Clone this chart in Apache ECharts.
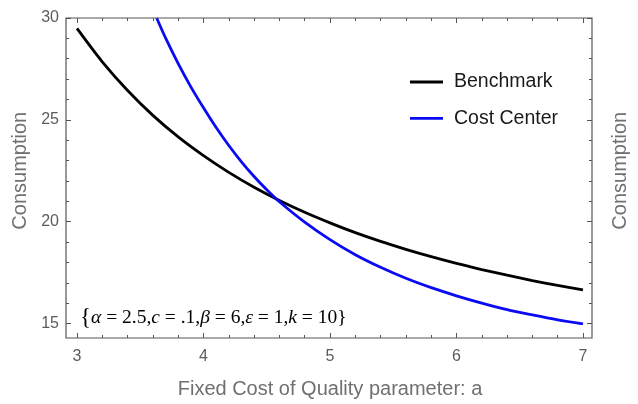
<!DOCTYPE html>
<html>
<head>
<meta charset="utf-8">
<script src="https://cdn.jsdelivr.net/npm/echarts@6/dist/echarts.min.js"></script>
<style>
html,body{margin:0;padding:0;background:#fff;}
#chart{width:638px;height:404px;}
</style>
</head>
<body>
<div id="chart"></div>
<script>
// ---- data ----
const xBenchmark = [3.0, 3.2, 3.4, 3.6, 3.8, 4.0, 4.2, 4.4, 4.6, 4.8, 5.0, 5.2, 5.4, 5.6, 5.8, 6.0, 6.2, 6.4, 6.6, 6.8, 7.0];
const yBenchmark = [29.49, 27.85, 26.44, 25.22, 24.16, 23.24, 22.42, 21.69, 21.04, 20.46, 19.94, 19.46, 19.03, 18.64, 18.28, 17.95, 17.65, 17.37, 17.11, 16.87, 16.65];

const xCostCenter = [3.63, 3.7, 3.8, 3.9, 4.0, 4.1, 4.2, 4.3, 4.4, 4.5, 4.6, 4.8, 5.0, 5.2, 5.4, 5.6, 5.8, 6.0, 6.2, 6.4, 6.6, 6.8, 7.0];
const yCostCenter = [30.0, 29.02, 27.76, 26.62, 25.59, 24.62, 23.74, 22.94, 22.22, 21.57, 20.98, 19.98, 19.12, 18.38, 17.76, 17.22, 16.76, 16.36, 16.00, 15.68, 15.42, 15.18, 14.98];

const seriesNames = ['Benchmark', 'Cost Center'];
const xTickRange = [3, 7];
const yTickRange = [15, 30];
const xAxisTitle = 'Fixed Cost of Quality parameter: a';
const yAxisTitle = 'Consumption';

const pairs = (xs, ys) => xs.map((x, i) => [x, ys[i]]);

const chart = echarts.init(document.getElementById('chart'), null, {renderer: 'canvas'});

const tickColor = '#555';
const labelColor = '#5c5c5c';
const nameColor = '#707070';
const sans = '"Liberation Sans", Arial, sans-serif';

function xAx(pos, offset, showLabel) {
  return {
    type: 'value', position: pos, offset: offset,
    min: xTickRange[0], max: xTickRange[1], interval: 1,
    axisLine: {show: false},
    axisTick: {show: true, inside: true, length: 5, lineStyle: {color: tickColor, width: 1}},
    minorTick: {show: true, splitNumber: 5, length: 3, lineStyle: {color: tickColor, width: 1}},
    splitLine: {show: false},
    axisLabel: {show: showLabel, margin: 11, color: labelColor, fontSize: 16, fontFamily: sans},
    name: showLabel ? xAxisTitle : '',
    nameLocation: 'middle', nameGap: 41,
    nameTextStyle: {color: nameColor, fontSize: 20, fontFamily: sans}
  };
}
function yAx(pos, offset, showLabel, gap) {
  return {
    type: 'value', position: pos, offset: offset,
    min: yTickRange[0], max: yTickRange[1], interval: 5,
    axisLine: {show: false},
    axisTick: {show: true, inside: true, length: 5, lineStyle: {color: tickColor, width: 1}},
    minorTick: {show: true, splitNumber: 5, length: 3, lineStyle: {color: tickColor, width: 1}},
    splitLine: {show: false},
    axisLabel: {show: showLabel, margin: 7, color: labelColor, fontSize: 16, fontFamily: sans},
    name: yAxisTitle,
    nameLocation: 'middle', nameGap: gap, nameRotate: 90,
    nameTextStyle: {color: nameColor, fontSize: 20, fontFamily: sans}
  };
}

const lineIcon = 'path://M0,0H33V2.8H0Z';

const option = {
  animation: false,
  backgroundColor: '#fff',
  grid: {left: 77, right: 55, top: 18, bottom: 80.5, containLabel: false},
  xAxis: [xAx('bottom', 14.5, true), xAx('top', 0, false)],
  yAxis: [yAx('left', 11, true, 27), yAx('right', 9, false, 18)],
  legend: {
    orient: 'vertical', left: 410, top: 72, padding: 0,
    itemWidth: 33, itemHeight: 22, itemGap: 16.4,
    icon: lineIcon,
    textStyle: {color: '#1a1a1a', fontSize: 19.5, fontFamily: sans, padding: [0, 0, 0, 6]},
    data: seriesNames
  },
  series: [
    {
      name: seriesNames[0], type: 'line', xAxisIndex: 0, yAxisIndex: 0,
      data: pairs(xBenchmark, yBenchmark), symbol: 'none', smooth: 0.3,
      lineStyle: {color: '#000000', width: 2.8}, itemStyle: {color: '#000000'}
    },
    {
      name: seriesNames[1], type: 'line', xAxisIndex: 0, yAxisIndex: 0,
      data: pairs(xCostCenter, yCostCenter), symbol: 'none', smooth: 0.3,
      lineStyle: {color: '#0a0af5', width: 2.8}, itemStyle: {color: '#0a0af5'}
    }
  ],
  graphic: [
    {
      type: 'rect', silent: true, z: 10,
      shape: {x: 66, y: 18, width: 526, height: 320},
      style: {fill: 'none', stroke: '#555', lineWidth: 1.2}
    },
    {
      type: 'text', z: 11, left: 80, top: 306,
      style: {
        text: '{b|{}{i|α} = 2.5,{i|c} = .1,{i|β} = 6,{i|ε} = 1,{i|k} = 10{b|}}',
        font: '19.5px "Liberation Serif", "Times New Roman", serif',
        fill: '#000',
        rich: {
          i: {fontStyle: 'italic', fontSize: 19.5, fontFamily: '"Liberation Serif", serif', fill: '#000'},
          b: {fontSize: 23, fontFamily: '"Liberation Serif", serif', fill: '#000'}
        }
      }
    }
  ]
};
chart.setOption(option);
</script>
</body>
</html>
